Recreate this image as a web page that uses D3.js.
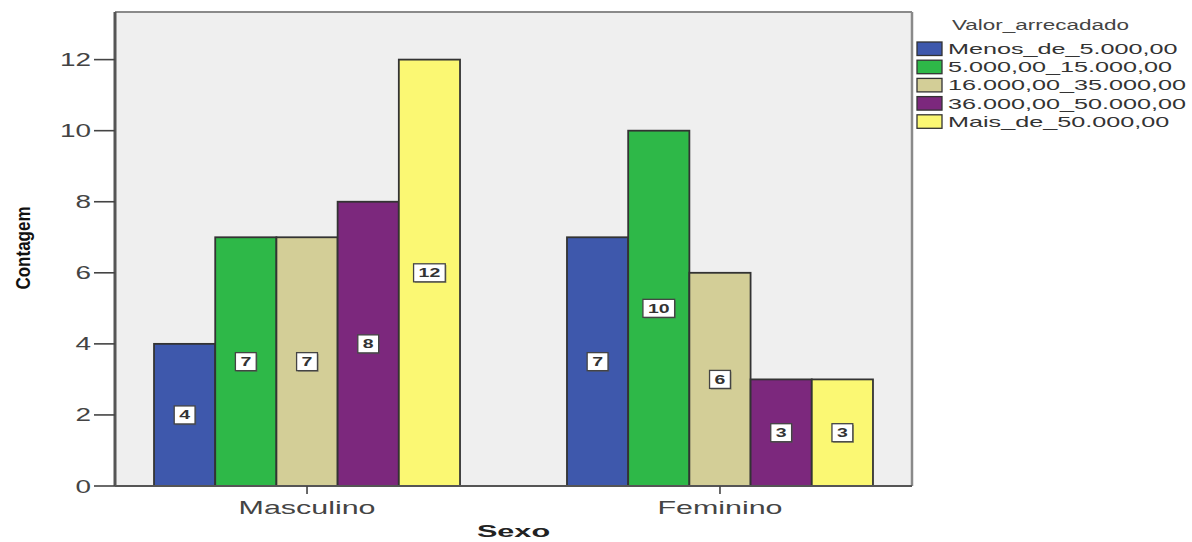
<!DOCTYPE html>
<html>
<head>
<meta charset="utf-8">
<script src="https://cdn.jsdelivr.net/npm/d3@7"></script>
<style>
  html, body { margin: 0; padding: 0; background: #ffffff; }
  svg { display: block; font-family: "Liberation Sans", Arial, sans-serif; }
</style>
</head>
<body>
<svg id="chart" width="1192" height="542"></svg>
<script>
// Contagem por sexo e faixa de valor arrecadado
const categories = ["Masculino", "Feminino"];
const seriesNames = [
  "Menos_de_5.000,00",
  "5.000,00_15.000,00",
  "16.000,00_35.000,00",
  "36.000,00_50.000,00",
  "Mais_de_50.000,00"
];
const masculinoValues = [4, 7, 7, 8, 12];
const femininoValues = [7, 10, 6, 3, 3];
const yTicks = [0, 2, 4, 6, 8, 10, 12];
const seriesColors = ["#3e58ac", "#2eb848", "#d3ce97", "#7c287d", "#fbf873"];
const legendTitle = "Valor_arrecadado";
const xTitle = "Sexo";
const yTitle = "Contagem";

const valuesByCategory = { "Masculino": masculinoValues, "Feminino": femininoValues };

const svg = d3.select("#chart");

const plot = { left: 115, right: 912, top: 12, bottom: 486 };

const x = d3.scalePoint().domain(categories).range([plot.left, plot.right]).padding(0.465);
const groupWidth = 306;
const xInner = d3.scaleBand().domain(seriesNames).range([-groupWidth / 2, groupWidth / 2]).padding(0);
const y = d3.scaleLinear().domain([0, 13.34]).range([plot.bottom, plot.top]);
const color = d3.scaleOrdinal().domain(seriesNames).range(seriesColors);

// stretched text helper (wide glyph rendering)
function stretchedText(parent, str, px, py, opts) {
  const sx = opts.sx || 1.6;
  const g = parent.append("g").attr("transform", `translate(${px},${py}) scale(${sx},1)`);
  const t = g.append("text")
    .attr("x", 0).attr("y", 0)
    .attr("text-anchor", opts.anchor || "start")
    .attr("font-size", opts.size || 16)
    .attr("font-weight", opts.weight || "normal")
    .attr("fill", opts.fill || "#333")
    .text(str);
  return t;
}

// plot background
svg.append("rect")
  .attr("x", plot.left).attr("y", plot.top)
  .attr("width", plot.right - plot.left).attr("height", plot.bottom - plot.top)
  .attr("fill", "#efefef");

// frame: top and right borders
svg.append("line").attr("x1", plot.left).attr("x2", plot.right).attr("y1", plot.top).attr("y2", plot.top)
  .attr("stroke", "#8a8a8a").attr("stroke-width", 2);
svg.append("line").attr("x1", plot.right).attr("x2", plot.right).attr("y1", plot.top).attr("y2", plot.bottom)
  .attr("stroke", "#8a8a8a").attr("stroke-width", 2.5);

// bars
const groups = svg.selectAll("g.group")
  .data(categories)
  .join("g")
  .attr("class", "group")
  .attr("transform", d => `translate(${x(d)},0)`);

const barData = c => valuesByCategory[c].map((v, i) => ({ cat: c, key: seriesNames[i], value: v }));

groups.selectAll("rect.bar")
  .data(c => barData(c))
  .join("rect")
  .attr("class", "bar")
  .attr("x", d => xInner(d.key))
  .attr("y", d => y(d.value))
  .attr("width", xInner.bandwidth())
  .attr("height", d => y(0) - y(d.value))
  .attr("fill", d => color(d.key))
  .attr("stroke", "#333")
  .attr("stroke-width", 1.8);

// value labels
const labelSize = 13;
const labelSx = 1.5;
groups.each(function (c) {
  const g = d3.select(this);
  barData(c).forEach(d => {
    const cx = xInner(d.key) + xInner.bandwidth() / 2;
    const cy = y(d.value / 2);
    const lg = g.append("g");
    const t = stretchedText(lg, String(d.value), cx, cy + 4.5, { size: labelSize, sx: labelSx, anchor: "middle", weight: "bold", fill: "#333" });
    const w = t.node().getComputedTextLength() * labelSx + 10;
    const h = 18;
    lg.insert("rect", ":first-child")
      .attr("x", cx - w / 2 + 1.2).attr("y", cy - h / 2 + 1.2)
      .attr("width", w).attr("height", h)
      .attr("fill", "#555").attr("opacity", 0.5);
    lg.insert("rect", "g")
      .attr("x", cx - w / 2).attr("y", cy - h / 2)
      .attr("width", w).attr("height", h)
      .attr("fill", "#ffffff").attr("stroke", "#444").attr("stroke-width", 1.3);
  });
});

// y axis
const yAxis = svg.append("g");
yAxis.append("line").attr("x1", plot.left).attr("x2", plot.left).attr("y1", plot.top).attr("y2", plot.bottom)
  .attr("stroke", "#555").attr("stroke-width", 3);
yTicks.forEach(v => {
  yAxis.append("line").attr("x1", plot.left - 21).attr("x2", plot.left).attr("y1", y(v)).attr("y2", y(v))
    .attr("stroke", "#444").attr("stroke-width", 1.6);
  stretchedText(yAxis, String(v), plot.left - 24, y(v) + 6.5, { size: 18, sx: 1.55, anchor: "end", fill: "#444" });
});

// x axis
const xAxis = svg.append("g");
xAxis.append("line").attr("x1", plot.left).attr("x2", plot.right).attr("y1", plot.bottom).attr("y2", plot.bottom)
  .attr("stroke", "#555").attr("stroke-width", 2);
categories.forEach(c => {
  xAxis.append("line").attr("x1", x(c)).attr("x2", x(c)).attr("y1", plot.bottom).attr("y2", plot.bottom + 8)
    .attr("stroke", "#444").attr("stroke-width", 1.6);
  stretchedText(xAxis, c, x(c), 514, { size: 18, sx: 1.69, anchor: "middle", fill: "#444" });
});

// axis titles
stretchedText(svg, xTitle, (plot.left + plot.right) / 2, 537, { size: 17, sx: 1.8, anchor: "middle", weight: "bold", fill: "#222" });
svg.append("g").attr("transform", "translate(30,248) scale(1.15,1)")
  .append("text")
  .attr("transform", "rotate(-90)")
  .attr("text-anchor", "middle")
  .attr("font-size", 17)
  .attr("font-weight", "bold")
  .attr("fill", "#111")
  .text(yTitle);

// legend
const legend = svg.append("g");
stretchedText(legend, legendTitle, 952, 30, { size: 15, sx: 1.5, fill: "#444" });
seriesNames.forEach((name, i) => {
  const ly = 42 + i * 18.2;
  legend.append("rect")
    .attr("x", 917).attr("y", ly)
    .attr("width", 25).attr("height", 13.5)
    .attr("fill", seriesColors[i]).attr("stroke", "#333").attr("stroke-width", 1.3);
  stretchedText(legend, name, 948, ly + 12, { size: 15, sx: 1.68, fill: "#333" });
});
</script>
</body>
</html>
